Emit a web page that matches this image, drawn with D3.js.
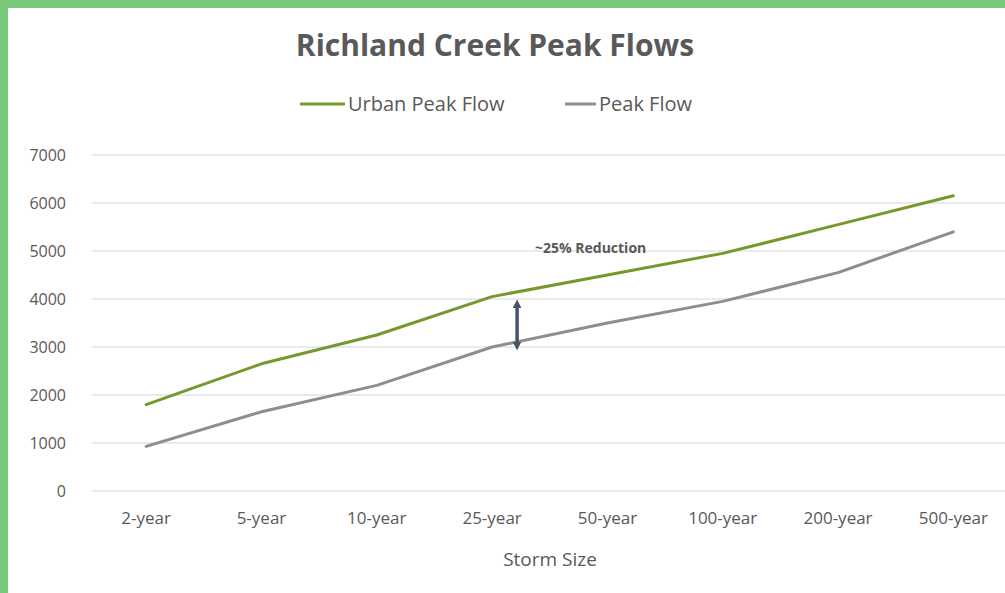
<!DOCTYPE html>
<html>
<head>
<meta charset="utf-8">
<script src="https://cdn.jsdelivr.net/npm/d3@7"></script>
<style>
  body { margin: 0; background: #fff; }
  svg text { font-family: "Open Sans", "Liberation Sans", sans-serif; fill: #595959; }
</style>
</head>
<body>
<svg id="chart"></svg>
<script>
// Data
const storms = ["2-year", "5-year", "10-year", "25-year", "50-year", "100-year", "200-year", "500-year"];
const urbanFlow = [1800, 2650, 3250, 4050, 4500, 4950, 5550, 6150];
const peakFlow = [930, 1650, 2200, 3000, 3500, 3950, 4550, 5400];
const yTicks = [0, 1000, 2000, 3000, 4000, 5000, 6000, 7000];

const W = 1005, H = 593;
const svg = d3.select("#chart").attr("width", W).attr("height", H);

// green frame
svg.append("rect").attr("x", 0).attr("y", 0).attr("width", W).attr("height", H).attr("fill", "#77c878");
svg.append("rect").attr("x", 8).attr("y", 8).attr("width", W - 8).attr("height", H - 8).attr("fill", "#fff");

const x = d3.scaleBand().domain(storms).range([88.5, 1011]);
const y = d3.scaleLinear().domain([0, 7000]).range([491, 155]);

// gridlines
svg.append("g")
    .selectAll("line")
    .data(yTicks)
    .enter()
    .append("line")
    .attr("x1", 92).attr("x2", W)
    .attr("y1", d => y(d)).attr("y2", d => y(d))
    .attr("stroke", "#e3e3e3").attr("stroke-width", 1.3);

// y axis labels
const yAxis = svg.append("g").attr("transform", "translate(66,0)")
    .call(d3.axisLeft(y).tickValues(yTicks).tickFormat(d3.format("d")).tickSize(0).tickPadding(0));
yAxis.select(".domain").remove();
yAxis.selectAll("text").style("font-size", "16px").attr("fill", "#666");

// x axis labels
const xAxis = svg.append("g").attr("transform", "translate(0,507)")
    .call(d3.axisBottom(x).tickSize(0).tickPadding(5));
xAxis.select(".domain").remove();
xAxis.selectAll("text").style("font-size", "17px").attr("fill", "#666");

// lines
const line = d3.line()
    .x((d, i) => x(storms[i]) + x.bandwidth() / 2)
    .y(d => y(d));

svg.append("path").datum(peakFlow)
    .attr("d", line).attr("fill", "none")
    .attr("stroke", "#8e8e8e").attr("stroke-width", 3)
    .attr("stroke-linejoin", "round").attr("stroke-linecap", "round");
svg.append("path").datum(urbanFlow)
    .attr("d", line).attr("fill", "none")
    .attr("stroke", "#76982c").attr("stroke-width", 3)
    .attr("stroke-linejoin", "round").attr("stroke-linecap", "round");

// arrow annotation
const ax = x("25-year") + x.bandwidth() / 2 + 25;
svg.append("defs").append("marker")
    .attr("id", "head").attr("viewBox", "0 0 10 10")
    .attr("refX", 5).attr("refY", 5)
    .attr("markerWidth", 2.5).attr("markerHeight", 2.5)
    .attr("orient", "auto-start-reverse")
    .append("path").attr("d", "M0,0L10,5L0,10z").attr("fill", "#44546a");
svg.append("line")
    .attr("x1", ax).attr("x2", ax)
    .attr("y1", y(3900)).attr("y2", y(3020))
    .attr("stroke", "#44546a").attr("stroke-width", 3.5)
    .attr("marker-start", "url(#head)").attr("marker-end", "url(#head)");

svg.append("text")
    .attr("x", 535).attr("y", 253)
    .style("font-size", "14px").style("font-weight", "bold")
    .attr("fill", "#333")
    .text("~25% Reduction");

// title
svg.append("text")
    .attr("x", 495).attr("y", 56)
    .attr("text-anchor", "middle")
    .style("font-size", "30px").style("font-weight", "bold")
    .text("Richland Creek Peak Flows");

// legend
const legend = [
    { name: "Urban Peak Flow", color: "#76982c", x: 300, len: 45 },
    { name: "Peak Flow", color: "#8e8e8e", x: 565, len: 31 }
];
legend.forEach(l => {
    svg.append("line")
        .attr("x1", l.x).attr("x2", l.x + l.len)
        .attr("y1", 104).attr("y2", 104)
        .attr("stroke", l.color).attr("stroke-width", 3);
    svg.append("text")
        .attr("x", l.x + l.len + 3).attr("y", 111)
        .style("font-size", "20px")
        .text(l.name);
});

// axis title
svg.append("text")
    .attr("x", 550).attr("y", 566)
    .attr("text-anchor", "middle")
    .style("font-size", "19px")
    .text("Storm Size");
</script>
</body>
</html>
